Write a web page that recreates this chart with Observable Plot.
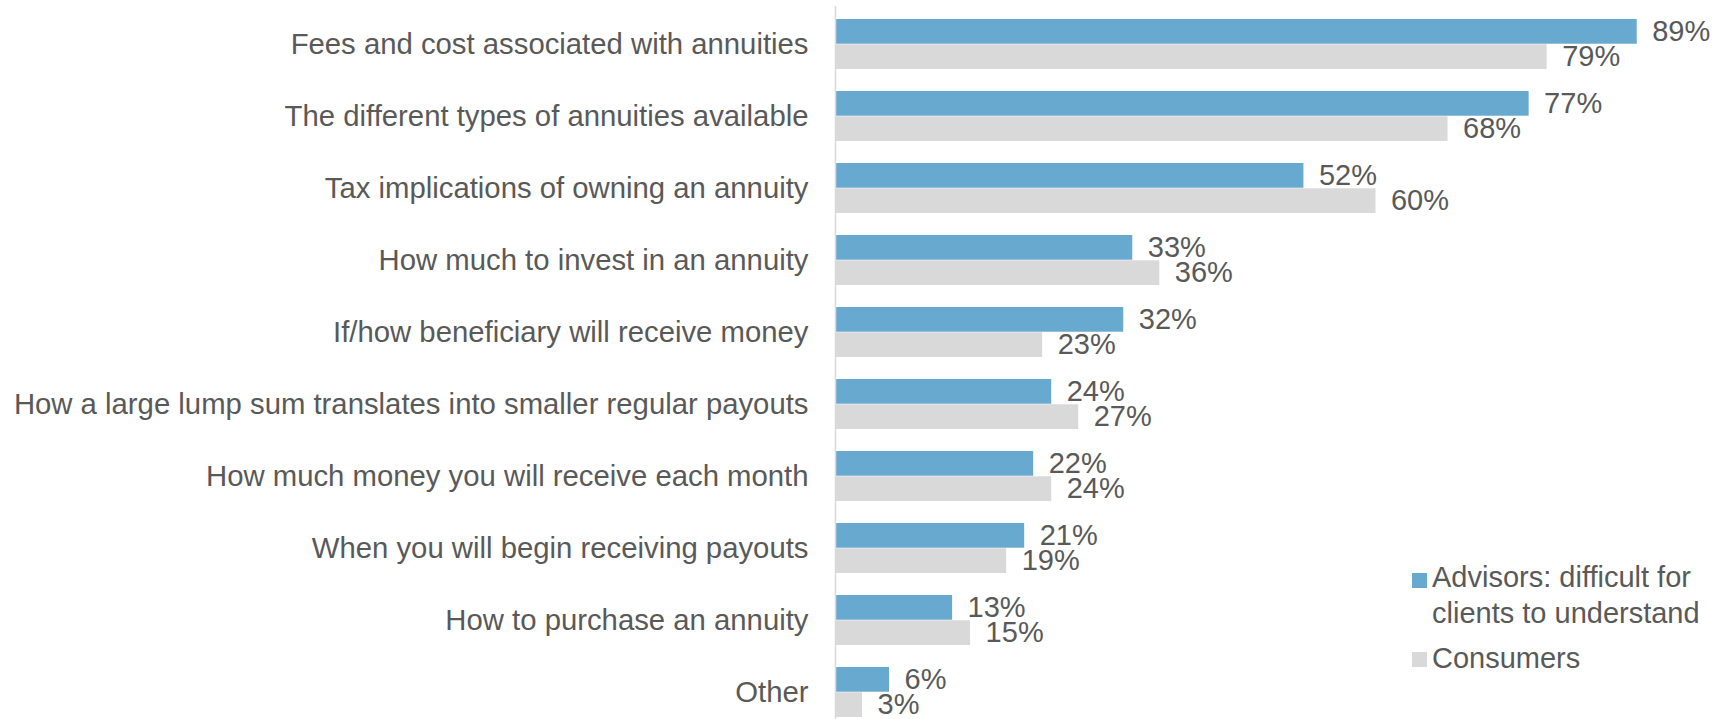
<!DOCTYPE html>
<html>
<head>
<meta charset="utf-8">
<script src="https://cdn.jsdelivr.net/npm/d3@7"></script>
<script src="https://cdn.jsdelivr.net/npm/@observablehq/plot@0.6"></script>
<style>
  html, body { margin: 0; padding: 0; background: #fff; }
  #wrap { position: relative; width: 1725px; height: 719px; font-family: "Liberation Sans", Arial, sans-serif; color: #595959; }
  .leg { position: absolute; font-size: 29px; line-height: 36px; white-space: nowrap; }
  .sw { position: absolute; width: 15px; height: 15px; }
</style>
</head>
<body>
<div id="wrap"></div>
<script>
const categories = [
  "Fees and cost associated with annuities",
  "The different types of annuities available",
  "Tax implications of owning an annuity",
  "How much to invest in an annuity",
  "If/how beneficiary will receive money",
  "How a large lump sum translates into smaller regular payouts",
  "How much money you will receive each month",
  "When you will begin receiving payouts",
  "How to purchase an annuity",
  "Other"
];
const advisors = [89, 77, 52, 33, 32, 24, 22, 21, 13, 6];
const consumers = [79, 68, 60, 36, 23, 27, 24, 19, 15, 3];
const seriesNames = ["Advisors: difficult for\nclients to understand", "Consumers"];
const colors = ["#68a9d0", "#d9d9d9"];

const advData = categories.map((c, i) => ({category: c, value: advisors[i]}));
const conData = categories.map((c, i) => ({category: c, value: consumers[i]}));

const half = 25.27;
const chart = Plot.plot({
  width: 1725,
  height: 719,
  marginLeft: 835,
  marginRight: 0,
  marginTop: 6,
  marginBottom: 0,
  style: {fontFamily: '"Liberation Sans", Arial, sans-serif', color: "#595959", background: "transparent"},
  x: {domain: [0, 98.8], axis: null},
  y: {domain: categories, range: [6, 730], paddingInner: 0.3, paddingOuter: 0.163},
  marks: [
    Plot.barX(advData, {x: "value", y: "category", fill: colors[0], insetBottom: half}),
    Plot.barX(conData, {x: "value", y: "category", fill: colors[1], insetTop: half}),
    Plot.ruleX([0], {stroke: "#d9d9d9", strokeWidth: 1.5}),
    Plot.text(advData, {x: "value", y: "category", text: d => d.value + "%", dx: 15, dy: -12.6, textAnchor: "start", fontSize: 29, fill: "#595959"}),
    Plot.text(conData, {x: "value", y: "category", text: d => d.value + "%", dx: 15, dy: 12.6, textAnchor: "start", fontSize: 29, fill: "#595959"}),
    Plot.axisY({tickSize: 0, tickPadding: 27, fontSize: 29.3, label: null, fill: "#595959"})
  ]
});
const wrap = document.getElementById("wrap");
wrap.appendChild(chart);

// legend
const legItems = [
  {top: 559, swTop: 573, label: seriesNames[0], color: colors[0]},
  {top: 640, swTop: 652, label: seriesNames[1], color: colors[1]}
];
legItems.forEach(it => {
  const sw = document.createElement("div");
  sw.className = "sw";
  sw.style.left = "1412px";
  sw.style.top = it.swTop + "px";
  sw.style.background = it.color;
  wrap.appendChild(sw);
  const t = document.createElement("div");
  t.className = "leg";
  t.style.left = "1432px";
  t.style.top = it.top + "px";
  t.innerHTML = it.label.split("\n").join("<br>");
  wrap.appendChild(t);
});
</script>
</body>
</html>
